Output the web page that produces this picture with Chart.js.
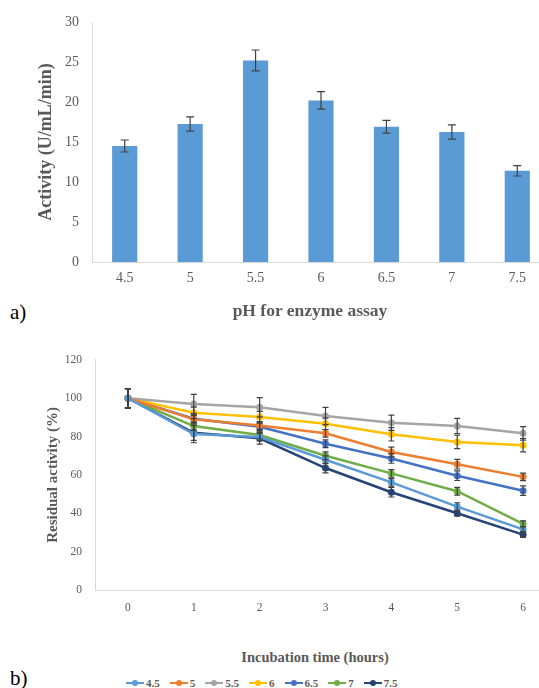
<!DOCTYPE html>
<html>
<head>
<meta charset="utf-8">
<script src="https://cdn.jsdelivr.net/npm/chart.js@4.4.0/dist/chart.umd.min.js"></script>
<style>
  html, body { margin: 0; padding: 0; background: #fff; overflow: hidden; }
  #wrap { position: relative; width: 539px; height: 688px; overflow: hidden; font-family: 'Liberation Serif', 'Times New Roman', serif; }
  canvas { position: absolute; left: 0; }
  #barCanvas { top: 0; }
  #lineCanvas { top: 340px; }
  .panel { position: absolute; left: 10px; font-size: 21px; color: #000; line-height: 1; }
  .xtitle { position: absolute; font-weight: bold; color: #595959; white-space: nowrap; transform: translate(-50%, -50%); }
  #legend { position: absolute; left: 126px; top: 677px; display: flex; align-items: center; gap: 10px; font-size: 11px; color: #595959; font-weight: bold; }
  .item { display: flex; align-items: center; gap: 2px; }
  .icon { position: relative; width: 18px; height: 2px; }
  .icon i { position: absolute; left: 6px; top: -2px; width: 6px; height: 6px; border-radius: 50%; }
</style>
</head>
<body>
<div id="wrap">
  <canvas id="barCanvas" width="560" height="300"></canvas>
  <div class="panel" style="top:302px">a)</div>
  <div class="xtitle" style="left:310px; top:310px; font-size:17.5px">pH for enzyme assay</div>

  <canvas id="lineCanvas" width="560" height="280"></canvas>
  <div class="xtitle" style="left:315px; top:657px; font-size:14.5px">Incubation time (hours)</div>
  <div class="panel" style="top:668px">b)</div>
  <div id="legend"></div>
</div>
<script>
// a) activity vs pH
const phLabels = ['4.5', '5', '5.5', '6', '6.5', '7', '7.5'];
const activity = [14.5, 17.25, 25.2, 20.2, 16.9, 16.25, 11.4];
const activityErr = [0.75, 0.9, 1.3, 1.1, 0.8, 0.9, 0.65];

// b) residual activity over time, one series per pH
const hours = ['0', '1', '2', '3', '4', '5', '6'];
const seriesNames = ['4.5', '5', '5.5', '6', '6.5', '7', '7.5'];
const ph45 = [100, 81.3, 79.8, 67.9, 56.1, 43.5, 31.6];
const ph5  = [100, 89.0, 85.8, 81.7, 72.0, 65.6, 59.0];
const ph55 = [100, 97.0, 95.3, 90.7, 87.2, 85.5, 81.7];
const ph6  = [100, 92.4, 90.2, 86.7, 81.2, 77.2, 75.5];
const ph65 = [100, 89.3, 85.1, 76.3, 68.6, 59.6, 51.8];
const ph7  = [100, 85.5, 80.8, 70.0, 60.8, 51.5, 34.5];
const ph75 = [100, 82.0, 79.1, 63.6, 51.0, 40.0, 28.9];
const ph45Err = [5, 4.5, 2, 2, 2, 2, 1.5];
const ph5Err  = [5, 2, 2, 2, 2.5, 2.5, 2];
const ph55Err = [5, 5, 5, 4.5, 4, 4, 3.5];
const ph6Err  = [5, 3, 3, 3, 3.5, 3.5, 3.5];
const ph65Err = [5, 2, 2, 2, 2.5, 2.5, 2.5];
const ph7Err  = [5, 2, 2, 2, 2, 2, 1.5];
const ph75Err = [5, 4, 3, 2.5, 2.5, 1.5, 1.5];
const colors = ['#5b9bd5', '#ed7d31', '#a5a5a5', '#ffc000', '#4472c4', '#70ad47', '#264478'];

Chart.defaults.font.family = "'Liberation Serif', 'Times New Roman', serif";
Chart.defaults.color = '#595959';

// draws +/- error whiskers using the chart's own y scale
const errorBars = {
  id: 'errorBars',
  afterDatasetsDraw(chart, args, opts) {
    const ctx = chart.ctx;
    const y = chart.scales.y;
    chart.data.datasets.forEach((ds, di) => {
      if (!ds.errors) return;
      const meta = chart.getDatasetMeta(di);
      meta.data.forEach((el, i) => {
        const v = ds.data[i], e = ds.errors[i];
        const top = y.getPixelForValue(v + e);
        const bot = y.getPixelForValue(v - e);
        ctx.save();
        ctx.strokeStyle = opts.color;
        ctx.lineWidth = 1.2;
        ctx.beginPath();
        ctx.moveTo(el.x, top); ctx.lineTo(el.x, bot);
        ctx.moveTo(el.x - opts.cap, top); ctx.lineTo(el.x + opts.cap, top);
        ctx.moveTo(el.x - opts.cap, bot); ctx.lineTo(el.x + opts.cap, bot);
        ctx.stroke();
        ctx.restore();
      });
    });
  }
};

new Chart(document.getElementById('barCanvas'), {
  type: 'bar',
  data: {
    labels: phLabels,
    datasets: [{
      data: activity,
      errors: activityErr,
      backgroundColor: '#5b9bd5',
      categoryPercentage: 1,
      barPercentage: 0.385
    }]
  },
  options: {
    responsive: false,
    animation: false,
    layout: { padding: { top: 22, right: 10, left: 0, bottom: 0 } },
    plugins: {
      legend: { display: false },
      tooltip: { enabled: false },
      errorBars: { color: '#404040', cap: 4 }
    },
    scales: {
      x: {
        grid: { display: false, drawTicks: false },
        border: { display: true, color: '#d9d9d9' },
        ticks: { font: { size: 14 }, padding: 8 },
        afterFit: s => { s.height = 38; }
      },
      y: {
        min: 0, max: 30,
        grid: { display: false, drawTicks: false },
        border: { display: true, color: '#d9d9d9' },
        ticks: { stepSize: 5, font: { size: 14 }, padding: 13 },
        title: {
          display: true,
          text: 'Activity (U/mL/min)',
          font: { size: 18, weight: 'bold' },
          padding: { top: 36, bottom: 0 }
        },
        afterFit: s => { s.width = 92; }
      }
    }
  },
  plugins: [errorBars]
});

const lineSeries = [ph45, ph5, ph55, ph6, ph65, ph7, ph75];
const lineErrors = [ph45Err, ph5Err, ph55Err, ph6Err, ph65Err, ph7Err, ph75Err];

new Chart(document.getElementById('lineCanvas'), {
  type: 'line',
  data: {
    labels: hours,
    datasets: seriesNames.map((name, i) => ({
      label: name,
      data: lineSeries[i],
      errors: lineErrors[i],
      borderColor: colors[i],
      backgroundColor: colors[i],
      borderWidth: 2.5,
      pointRadius: 3.5,
      pointBorderWidth: 0,
      tension: 0
    }))
  },
  options: {
    responsive: false,
    animation: false,
    layout: { padding: { top: 18, right: 4, left: 0, bottom: 0 } },
    plugins: {
      legend: { display: false },
      tooltip: { enabled: false },
      errorBars: { color: '#404040', cap: 3 }
    },
    scales: {
      x: {
        offset: true,
        grid: { display: false, drawTicks: false },
        border: { display: true, color: '#d9d9d9' },
        ticks: { font: { size: 11.5 }, padding: 11 },
        afterFit: s => { s.height = 30; }
      },
      y: {
        min: 0, max: 120,
        grid: { display: false, drawTicks: false },
        border: { display: true, color: '#d9d9d9' },
        ticks: { stepSize: 20, font: { size: 11.5 }, padding: 13 },
        title: {
          display: true,
          text: 'Residual activity (%)',
          font: { size: 15, weight: 'bold' },
          padding: { top: 44, bottom: 0 }
        },
        afterFit: s => { s.width = 95; }
      }
    }
  },
  plugins: [errorBars]
});

// legend for b)
const legend = document.getElementById('legend');
seriesNames.forEach((name, i) => {
  const item = document.createElement('span');
  item.className = 'item';
  item.innerHTML = `<span class="icon" style="background:${colors[i]}"><i style="background:${colors[i]}"></i></span><span>${name}</span>`;
  legend.appendChild(item);
});
</script>
</body>
</html>
